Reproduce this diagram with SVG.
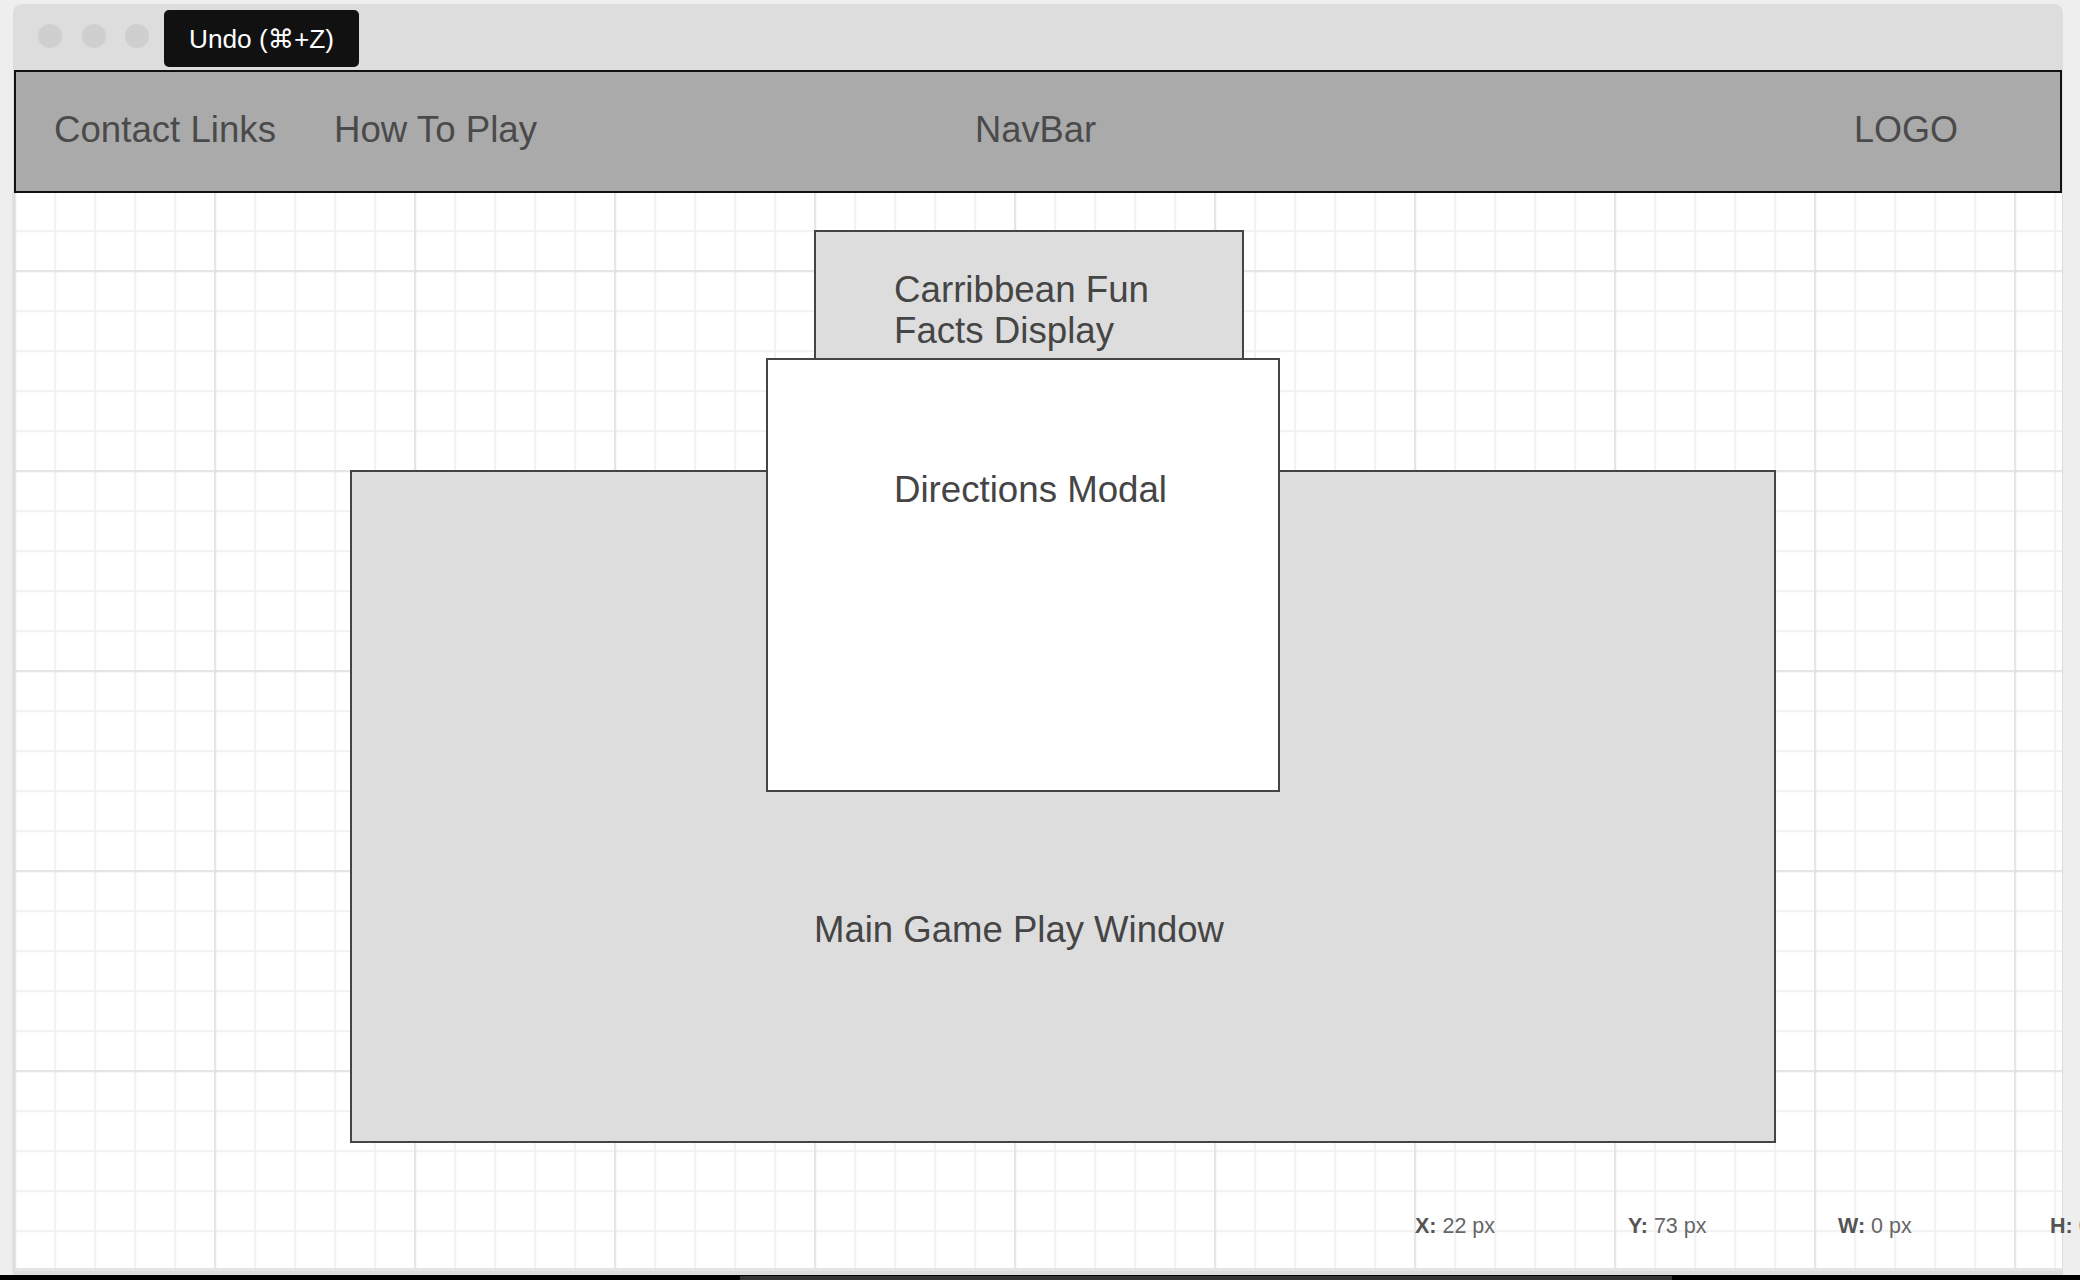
<svg xmlns="http://www.w3.org/2000/svg" width="2080" height="1280" viewBox="0 0 2080 1280">
<style>
.nav{font-family:"Liberation Sans",Arial,sans-serif;font-size:36px;fill:#4a4a4a}
.lbl{font-family:"Liberation Sans",Arial,sans-serif;font-size:36px;fill:#454545}
.box{stroke:#444;stroke-width:2}
.st{font-family:"Liberation Sans",Arial,sans-serif;font-size:21.5px;fill:#666}
.st tspan.b{font-weight:bold;fill:#555}
</style>
<defs>
<pattern id="minor" patternUnits="userSpaceOnUse" x="14.3" y="70.3" width="40" height="40">
<rect x="0" y="0" width="1.5" height="40" fill="#ececec"/>
<rect x="0" y="0" width="40" height="1.5" fill="#ececec"/>
</pattern>
<pattern id="major" patternUnits="userSpaceOnUse" x="14.3" y="70.3" width="200" height="200">
<rect x="0" y="0" width="1.5" height="200" fill="#e0e0e0"/>
<rect x="0" y="0" width="200" height="1.5" fill="#e0e0e0"/>
</pattern>
<clipPath id="canvasClip"><rect x="15" y="192" width="2047" height="1078"/></clipPath>
</defs>
<rect x="0" y="0" width="2080" height="1280" fill="#eeeeee"/>
<g id="window">
<path d="M13 1280 V14 Q13 4 23 4 H2053 Q2063 4 2063 14 V1280 Z" fill="#dddddd"/>
<rect x="12" y="192" width="1.5" height="1080" fill="#e2e2e2"/>
<circle cx="50" cy="36" r="12" fill="#cfcfcf"/>
<circle cx="94" cy="36" r="12" fill="#cfcfcf"/>
<circle cx="137" cy="36" r="12" fill="#cfcfcf"/>
</g>
<g id="canvas">
<rect x="15" y="192" width="2047" height="1078" fill="#ffffff"/>
<g clip-path="url(#canvasClip)">
<rect x="15" y="192" width="2047" height="1078" fill="url(#minor)"/>
<rect x="15" y="192" width="2047" height="1078" fill="url(#major)"/>
</g>
<rect x="15" y="1268" width="2047" height="3" fill="#e4e4e4"/>
<rect x="0" y="1275" width="2080" height="5" fill="#000"/>
<rect x="740" y="1276" width="932" height="4" fill="#333"/>
</g>
<g id="undo-tooltip">
<rect x="164" y="10" width="195" height="57" rx="5" fill="#111111"/>
<text x="189" y="48" font-family="'Liberation Sans','DejaVu Sans',sans-serif" font-size="26" fill="#ffffff" textLength="145" lengthAdjust="spacingAndGlyphs">Undo (⌘+Z)</text>
</g>
<g id="navbar">
<rect x="15" y="71" width="2046" height="121" fill="#aaaaaa" stroke="#111" stroke-width="2"/>
<text class="nav" x="54" y="142" textLength="222" lengthAdjust="spacingAndGlyphs">Contact Links</text>
<text class="nav" x="334" y="142" textLength="203" lengthAdjust="spacingAndGlyphs">How To Play</text>
<text class="nav" x="975" y="142" textLength="121" lengthAdjust="spacingAndGlyphs">NavBar</text>
<text class="nav" x="1854" y="142" textLength="104" lengthAdjust="spacingAndGlyphs">LOGO</text>
</g>
<g id="main-game-window">
<rect class="box" x="351" y="471" width="1424" height="671" fill="#dddddd"/>
<text class="lbl" x="814" y="942" textLength="410" lengthAdjust="spacingAndGlyphs">Main Game Play Window</text>
</g>
<g id="fun-facts">
<rect class="box" x="815" y="231" width="428" height="128" fill="#dddddd"/>
<text class="lbl" x="894" y="302" textLength="255" lengthAdjust="spacingAndGlyphs">Carribbean Fun</text>
<text class="lbl" x="894" y="343" textLength="220" lengthAdjust="spacingAndGlyphs">Facts Display</text>
</g>
<g id="directions-modal">
<rect class="box" x="767" y="359" width="512" height="432" fill="#ffffff"/>
<text class="lbl" x="894" y="502" textLength="273" lengthAdjust="spacingAndGlyphs">Directions Modal</text>
</g>
<g id="connectors"></g>
<g id="status">
<text class="st" x="1415" y="1233"><tspan class="b">X:</tspan> 22 px</text>
<text class="st" x="1628" y="1233"><tspan class="b">Y:</tspan> 73 px</text>
<text class="st" x="1838" y="1233"><tspan class="b">W:</tspan> 0 px</text>
<text class="st" x="2050" y="1233"><tspan class="b">H:</tspan> 0 px</text>
</g>
</svg>
